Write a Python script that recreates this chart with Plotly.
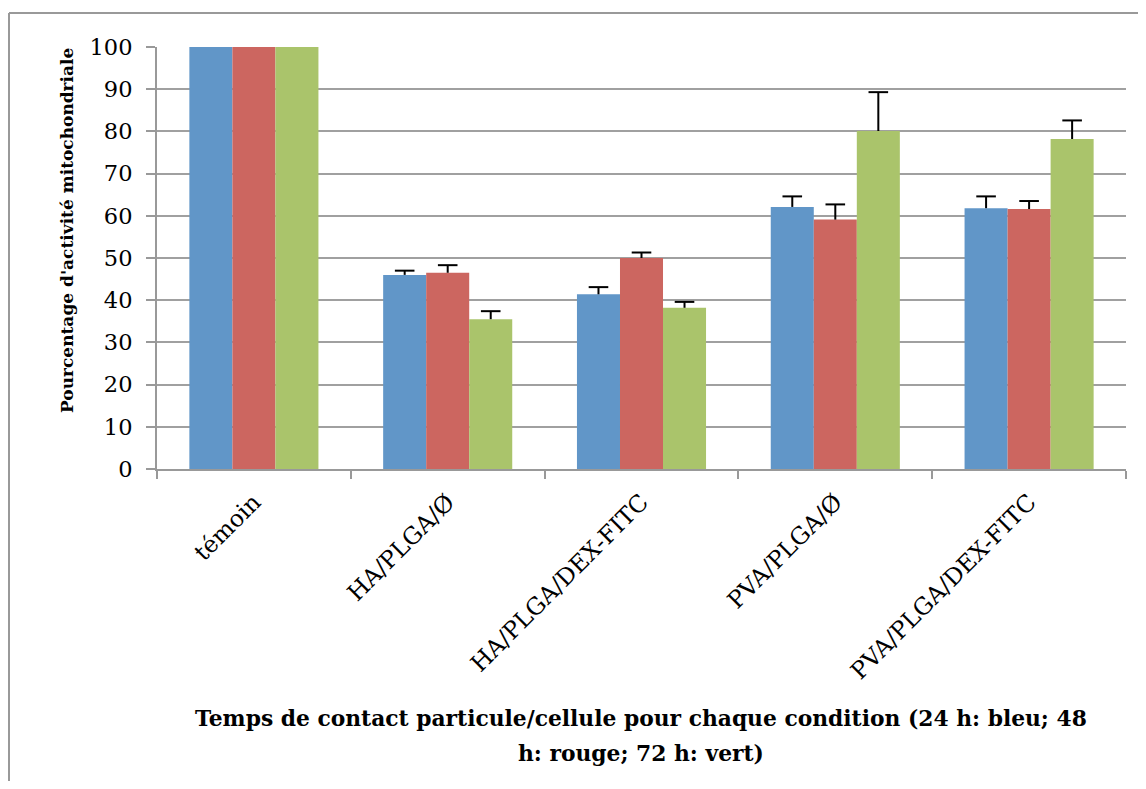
import plotly.graph_objects as go

categories = ["témoin", "HA/PLGA/Ø", "HA/PLGA/DEX-FITC", "PVA/PLGA/Ø", "PVA/PLGA/DEX-FITC"]
series_names = ["24 h", "48 h", "72 h"]
values_24h = [100, 46.0, 41.4, 62.1, 61.8]
values_48h = [100, 46.5, 50.0, 59.1, 61.6]
values_72h = [100, 35.5, 38.2, 80.1, 78.2]
err_24h = [0, 1.0, 1.7, 2.5, 2.8]
err_48h = [0, 1.8, 1.3, 3.6, 1.9]
err_72h = [0, 1.9, 1.4, 9.2, 4.4]
colors = ["#6196C8", "#CC6660", "#AAC46B"]
y_ticks = [0, 10, 20, 30, 40, 50, 60, 70, 80, 90, 100]
title_line1 = "Temps de contact particule/cellule pour chaque condition (24 h: bleu; 48"
title_line2 = "h: rouge; 72 h: vert)"
y_title = "Pourcentage d'activité mitochondriale"

GAP = 0.334
fig = go.Figure()
for name, vals, errs, col in zip(series_names, [values_24h, values_48h, values_72h],
                                 [err_24h, err_48h, err_72h], colors):
    fig.add_trace(go.Bar(
        x=categories, y=vals, name=name,
        marker=dict(color=col, line=dict(width=0)),
        error_y=dict(type="data", array=errs, symmetric=False, arrayminus=[0] * len(errs),
                     color="black", thickness=2, width=0),
    ))
for vals, errs in zip([values_24h, values_48h, values_72h], [err_24h, err_48h, err_72h]):
    tops = [v + e if e > 0 else None for v, e in zip(vals, errs)]
    fig.add_trace(go.Scatter(
        x=categories, y=tops, mode="markers", showlegend=False, hoverinfo="skip",
        marker=dict(symbol="line-ew", size=14, color="black", line=dict(width=2, color="black")),
    ))

# page has an 8px body margin: lay out relative to the figure origin
OFF = 8
W, H = 1146 - 2 * OFF, 789 - 2 * OFF
L, T = 157 - OFF, 47 - OFF
R = W - (1126 - OFF)
B = H - (469 - OFF)
PW, PH = W - L - R, H - T - B


def px_x(x):
    return (x - OFF - L) / PW


def px_y(y):
    return (H - B - (y - OFF)) / PH


fig.update_layout(
    width=W, height=H,
    margin=dict(l=L, r=R, t=T, b=B, pad=0),
    paper_bgcolor="white", plot_bgcolor="white",
    barmode="group", bargap=GAP, bargroupgap=0,
    scattermode="group", scattergap=GAP,
    showlegend=False,
    font=dict(family="DejaVu Serif", color="black"),
    xaxis=dict(
        type="category", tickangle=-45, tickfont=dict(size=23.5, family="DejaVu Serif"),
        showline=True, linecolor="#999999", linewidth=2,
        ticks="outside", tickson="boundaries", ticklen=8, tickcolor="#999999", tickwidth=2,
        showgrid=False, ticklabelstandoff=8,
    ),
    yaxis=dict(
        range=[0, 100], tickvals=y_ticks, tickfont=dict(size=22.5, family="DejaVu Serif"),
        showline=True, linecolor="#999999", linewidth=2,
        ticks="outside", ticklen=9, tickcolor="#999999", tickwidth=2,
        showgrid=True, gridcolor="#A0A0A0", gridwidth=2, zeroline=False,
        ticklabelstandoff=9,
    ),
    annotations=[
        dict(text="<b>" + title_line1 + "</b>",
             xref="paper", yref="paper", x=px_x(641), y=px_y(718),
             yanchor="middle", xanchor="center", showarrow=False,
             font=dict(size=21.8, family="DejaVu Serif", color="black")),
        dict(text="<b>" + title_line2 + "</b>",
             xref="paper", yref="paper", x=px_x(641), y=px_y(753),
             yanchor="middle", xanchor="center", showarrow=False,
             font=dict(size=21.8, family="DejaVu Serif", color="black")),
        dict(text="<b>" + y_title + "</b>", textangle=-90,
             xref="paper", yref="paper", x=px_x(67), y=px_y(230),
             xanchor="center", yanchor="middle", showarrow=False,
             font=dict(size=17, family="DejaVu Serif", color="black")),
    ],
    shapes=[
        dict(type="line", xref="paper", yref="paper",
             x0=px_x(9), x1=px_x(1160), y0=px_y(13), y1=px_y(13),
             line=dict(color="#999999", width=2)),
        dict(type="line", xref="paper", yref="paper",
             x0=px_x(9), x1=px_x(9), y0=px_y(13), y1=px_y(800),
             line=dict(color="#999999", width=2)),
    ],
)

fig.write_html("out.html")
